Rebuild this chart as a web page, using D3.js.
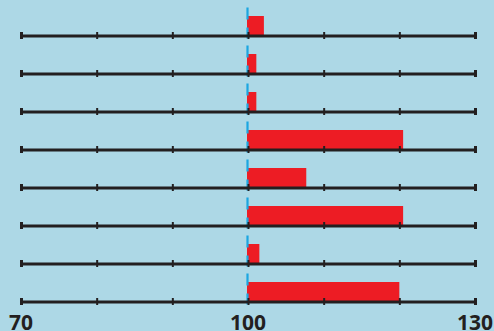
<!DOCTYPE html>
<html>
<head>
<meta charset="utf-8">
<script src="https://cdn.jsdelivr.net/npm/d3@7"></script>
<style>
html,body{margin:0;padding:0;background:#add8e6;}
svg{display:block;}
</style>
</head>
<body>
<svg id="chart" width="494" height="331"></svg>
<script>
const categories = ["Row 1","Row 2","Row 3","Row 4","Row 5","Row 6","Row 7","Row 8"];
const values = [102.1, 101.1, 101.1, 120.5, 107.7, 120.5, 101.5, 120.0];
const tickValues = [70, 80, 90, 100, 110, 120, 130];
const labelValues = [70, 100, 130];
const baseline = 100;

const W = 494, H = 331;
const svg = d3.select("#chart");
svg.append("rect").attr("width", W).attr("height", H).attr("fill", "#add8e6");

const x = d3.scaleLinear().domain([70, 130]).range([21, 475]);
const y = d3.scalePoint().domain(categories).range([35.5, 301.5]);
const barH = 19.5;

// bars
svg.append("g").selectAll("rect").data(categories).join("rect")
  .attr("x", (d, i) => Math.min(x(baseline), x(values[i])) - 1)
  .attr("y", d => y(d) - barH)
  .attr("width", (d, i) => Math.abs(x(values[i]) - x(baseline)) + 1)
  .attr("height", barH)
  .attr("fill", "#ed1c24");

// dashed reference line at 100
svg.append("line")
  .attr("x1", x(baseline) - 0.5).attr("x2", x(baseline) - 0.5)
  .attr("y1", y(categories[0]) - 28).attr("y2", y(categories[categories.length - 1]) + 4)
  .attr("stroke", "#1ba6e1").attr("stroke-width", 2.2)
  .attr("stroke-dasharray", "12,8,11,7");

// row axes
categories.forEach(c => {
  const g = svg.append("g").attr("transform", `translate(0,${y(c)})`)
    .call(d3.axisBottom(x).tickValues(tickValues).tickSize(7).tickSizeOuter(0).tickFormat(""));
  g.select(".domain").attr("stroke", "#231f20").attr("stroke-width", 3);
  g.selectAll(".tick line")
    .attr("y1", -3.5).attr("y2", 3.5)
    .attr("stroke", "#231f20")
    .attr("stroke-width", d => (d === 70 || d === 130) ? 3 : 2);
});

// bottom labels
svg.append("g").selectAll("text").data(labelValues).join("text")
  .attr("x", d => x(d))
  .attr("y", 330)
  .attr("text-anchor", "middle")
  .attr("font-family", "'Open Sans', 'Liberation Sans', sans-serif")
  .attr("font-weight", "bold")
  .attr("font-size", 21)
  .attr("fill", "#231f20")
  .text(d => d);
</script>
</body>
</html>
